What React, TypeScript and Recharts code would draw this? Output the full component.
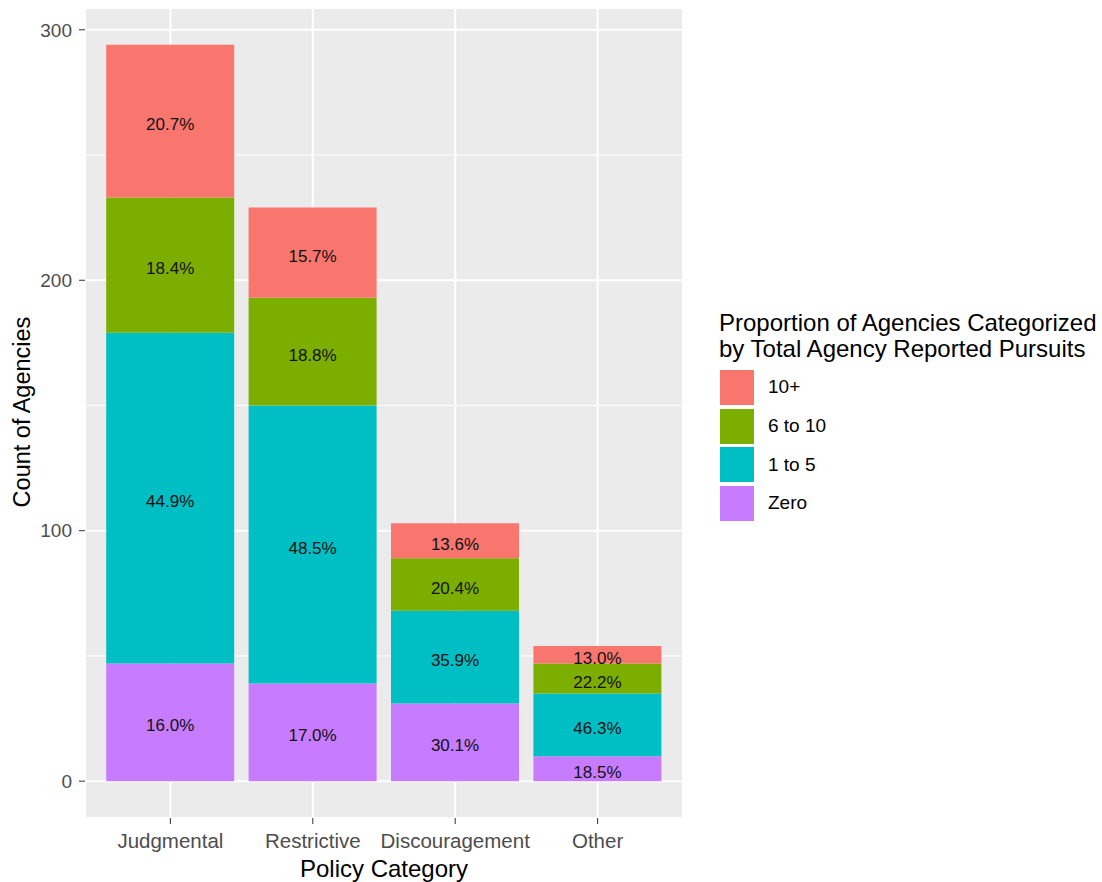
import React from 'react';
import { BarChart, Bar, XAxis, YAxis, CartesianGrid, LabelList, Label } from 'recharts';

const categories = ['Judgmental', 'Restrictive', 'Discouragement', 'Other'];
const zero = [47, 39, 31, 10];
const oneToFive = [132, 111, 37, 25];
const sixToTen = [54, 43, 21, 12];
const tenPlus = [61, 36, 14, 7];
const yTicks = [0, 100, 200, 300];
const minorTicks = [50, 150, 250];
const seriesKeys = ['zero', 'oneToFive', 'sixToTen', 'tenPlus'];
const seriesNames = ['Zero', '1 to 5', '6 to 10', '10+'];
const seriesColors = ['#C77CFF', '#00BFC4', '#7CAE00', '#F8766D'];
const seriesValues = [zero, oneToFive, sixToTen, tenPlus];
const legendTitle = ['Proportion of Agencies Categorized', 'by Total Agency Reported Pursuits'];

const data = categories.map((category, i) => {
  const total = seriesValues.reduce((s, arr) => s + arr[i], 0);
  const row: any = { category };
  seriesKeys.forEach((k, j) => {
    row[k] = seriesValues[j][i];
    row[k + 'Label'] = ((seriesValues[j][i] / total) * 100).toFixed(1) + '%';
  });
  return row;
});

const FONT = '"Liberation Sans", Arial, Helvetica, sans-serif';

const YTitle = () => (
  <text
    transform={`translate(30, 412) rotate(-90)`}
    textAnchor="middle"
    fontSize={23.5}
    fontFamily={FONT}
    fill="#000"
  >
    Count of Agencies
  </text>
);

const XTitle = () => (
  <text x={384} y={877} textAnchor="middle" fontSize={24} fontFamily={FONT} fill="#000">
    Policy Category
  </text>
);

const LegendBox = () => (
  <div
    style={{
      position: 'absolute',
      left: 719,
      top: 309,
      fontFamily: FONT,
      color: '#000',
    }}
  >
    {legendTitle.map((t) => (
      <div key={t} style={{ fontSize: 24, lineHeight: '27px', height: 26, whiteSpace: 'nowrap' }}>{t}</div>
    ))}
    <div style={{ marginTop: 7 }}>
      {[3, 2, 1, 0].map((j) => (
        <div key={seriesKeys[j]} style={{ display: 'flex', alignItems: 'center', height: 38.7 }}>
          <div style={{ width: 34, height: 35, background: seriesColors[j], marginLeft: 1 }} />
          <div style={{ marginLeft: 14, fontSize: 19, lineHeight: '20px' }}>{seriesNames[j]}</div>
        </div>
      ))}
    </div>
  </div>
);

export default function App() {
  return (
    <div style={{ position: 'absolute', left: 0, top: 0, width: 1102, height: 882, background: '#fff' }}>
      <BarChart
        width={1102}
        height={882}
        data={data}
        margin={{ top: 8, right: 419, bottom: 0, left: 0 }}
        barSize={128}
      >
        <CartesianGrid fill="#EBEBEB" stroke="#FFFFFF" strokeWidth={2} />
        <CartesianGrid
          fill="none"
          stroke="#FFFFFF"
          strokeWidth={1}
          vertical={false}
          horizontalValues={minorTicks}
        />
        <XAxis
          dataKey="category"
          height={64}
          padding={{ left: 14.2, right: 14.2 }}
          axisLine={false}
          tickSize={6}
          tickMargin={9}
          tickLine={{ stroke: '#333333', strokeWidth: 1 }}
          tick={{ fill: '#4D4D4D', fontSize: 20.5, fontFamily: FONT }}
          interval={0}
        >
          <Label content={<XTitle />} />
        </XAxis>
        <YAxis
          width={85}
          type="number"
          domain={[-14.7, 308.7]}
          ticks={yTicks}
          allowDataOverflow
          axisLine={false}
          tickSize={6}
          tickMargin={7}
          tickLine={{ stroke: '#333333', strokeWidth: 1 }}
          tick={{ fill: '#4D4D4D', fontSize: 19, fontFamily: FONT }}
        >
          <Label content={<YTitle />} />
        </YAxis>
        {seriesKeys.map((k, j) => (
          <Bar key={k} dataKey={k} name={seriesNames[j]} stackId="a" fill={seriesColors[j]} isAnimationActive={false}>
            <LabelList
              dataKey={k + 'Label'}
              position="center"
              fill="#111"
              fontSize={17}
              fontFamily={FONT}
              dy={3}
            />
          </Bar>
        ))}
      </BarChart>
      <LegendBox />
    </div>
  );
}
